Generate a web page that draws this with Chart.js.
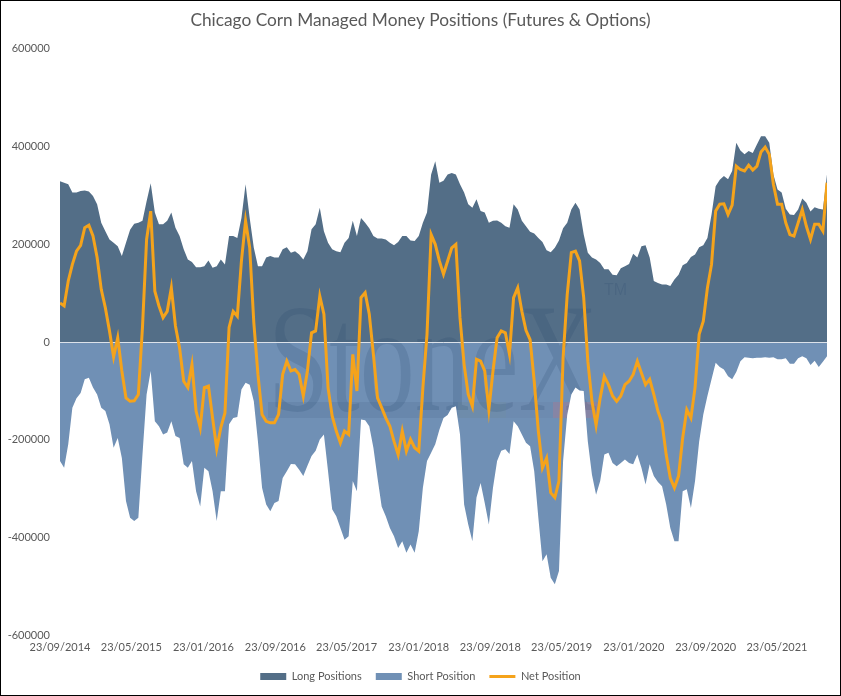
<!DOCTYPE html>
<html>
<head>
<meta charset="utf-8">
<title>Chicago Corn Managed Money Positions</title>
<script src="https://cdn.jsdelivr.net/npm/chart.js@4.4.1/dist/chart.umd.min.js"></script>
<style>
  html, body { margin: 0; padding: 0; background: #fff; }
  #wrap { width: 841px; height: 696px; box-sizing: border-box; border: 1px solid #000; }
  canvas { display: block; }
</style>
</head>
<body>
<div id="wrap"><canvas id="chart" width="839" height="694"></canvas></div>
<script>
// weekly COT report, read every second week starting 23/09/2014 (values in thousands of contracts)
const startDate = Date.UTC(2014, 8, 23)
const stepDays = 14

const tickLabels = ['23/09/2014', '23/05/2015', '23/01/2016', '23/09/2016', '23/05/2017', '23/01/2018',
    '23/09/2018', '23/05/2019', '23/01/2020', '23/09/2020', '23/05/2021']

const longPositions = [
    329, 326, 323, 306, 306, 309, 310, 308, 299, 282, 244, 227, 210, 203, 196, 176, 203, 230, 242, 244,
    248, 288, 325, 265, 241, 241, 248, 265, 234, 217, 190, 169,
    164, 153, 153, 155, 167, 152, 155, 169, 159, 217, 217, 213, 254, 323, 254, 193, 155, 155, 173, 176,
    173, 173, 190, 194, 183, 186, 179, 169, 186, 231,
    241, 275, 227, 203, 190, 186, 184, 203, 213, 248, 217, 254, 244, 233, 217, 212, 212, 210, 203, 198,
    205, 217, 217, 208, 207, 217, 244, 265, 343, 370, 326, 330,
    343, 346, 343, 323, 306, 282, 275, 292, 268, 265, 244, 248, 249, 244, 237, 234, 282, 271, 248, 237,
    226, 222, 213, 205, 188, 184, 193, 208, 233, 244, 271,
    285, 271, 220, 183, 173, 169, 162, 149, 149, 138, 137, 151, 155, 160, 181, 173, 196, 198, 173, 125,
    121, 118, 118, 115, 128, 138, 157, 162, 174, 179, 194, 198,
    213, 261, 319, 332, 340, 333, 350, 408, 392, 384, 391, 387, 404, 421, 421, 408, 343, 312, 306, 273,
    261, 260, 271, 294, 285, 267, 276, 273, 271, 343
]

const shortPosition = [
    -243, -257, -209, -134, -115, -104, -76, -73, -93, -107, -134, -141, -168, -216, -196, -237, -325, -359, -366, -359,
    -230, -107, -59, -162, -172, -189, -185, -162, -192, -196, -250, -257,
    -243, -305, -336, -257, -264, -305, -366, -305, -305, -168, -155, -153, -97, -83, -87, -121, -203, -298, -332, -346,
    -329, -325, -278, -264, -249, -250, -261, -274, -253, -233,
    -222, -199, -189, -264, -342, -356, -380, -404, -397, -284, -305, -158, -160, -172, -216, -278, -336, -356, -380, -397,
    -421, -407, -431, -414, -431, -387, -298, -243, -226, -209, -179, -155,
    -149, -134, -131, -189, -332, -373, -407, -318, -288, -329, -373, -298, -243, -222, -219, -229, -162, -172, -189, -206,
    -213, -264, -359, -448, -434, -482, -495, -468, -243, -149, -107,
    -93, -99, -100, -203, -271, -312, -284, -230, -226, -247, -254, -247, -240, -247, -250, -230, -257, -291, -250, -274,
    -286, -295, -332, -380, -407, -407, -305, -301, -339, -284, -203, -148,
    -110, -76, -42, -51, -56, -70, -76, -61, -39, -31, -32, -33, -32, -32, -31, -32, -31, -35, -35, -33,
    -44, -44, -33, -29, -33, -47, -38, -51, -40, -29
]

const netPosition = [
    80, 74, 125, 159, 186, 198, 234, 239, 217, 173, 108, 70, 23, -30, 9, -59, -114, -121, -120, -107,
    30, 210, 268, 104, 74, 50, 63, 111, 33, -12, -80, -93,
    -46, -141, -175, -93, -90, -155, -218, -175, -145, 30, 63, 53, 166, 248, 193, 40, -66, -148, -162, -165,
    -165, -148, -66, -39, -59, -56, -66, -110, -59, 19,
    23, 94, 57, -93, -151, -182, -206, -182, -189, -25, -100, 91, 101, 57, -25, -114, -134, -155, -172, -203,
    -230, -182, -223, -199, -216, -223, -93, 16, 220, 200, 166, 139,
    166, 193, 200, 50, -46, -107, -131, -35, -39, -59, -138, -59, 9, 23, 19, -25, 91, 111, 63, 24,
    5, -80, -182, -257, -237, -308, -318, -284, -32, 97, 183,
    186, 166, 91, -39, -121, -170, -114, -70, -87, -110, -121, -110, -87, -80, -66, -39, -63, -87, -76, -107,
    -141, -165, -230, -278, -298, -274, -196, -138, -155, -93, 16, 43,
    111, 159, 268, 282, 283, 261, 280, 360, 353, 350, 362, 352, 360, 389, 399, 384, 323, 282, 282, 244,
    220, 217, 244, 271, 237, 210, 241, 241, 227, 326
]

function dayOffset(label) {
    const [d, m, y] = label.split('/').map(Number)
    return (Date.UTC(y, m - 1, d) - startDate) / 864e5
}

const tickDays = tickLabels.map(dayOffset)
const toPoints = (values) => values.map((v, i) => ({ x: i * stepDays, y: v * 1000 }))

const textColor = '#595959'
const font = { family: 'Lato', size: 11 }

// faint StoneX logo behind the net line, plus the light zero axis line
const watermark = {
    id: 'watermark',
    afterDatasetDraw(chart, args) {
        if (args.index !== 0) return
        const { ctx, chartArea, scales } = chart

        ctx.save()
        ctx.globalCompositeOperation = 'source-atop'
        ctx.fillStyle = 'rgba(30, 60, 100, 0.17)'
        ctx.font = '154px "Liberation Serif"'
        const w = ctx.measureText('StoneX').width
        ctx.translate(267, 369)
        ctx.scale(330 / w, 1)
        ctx.fillText('StoneX', 0, 0)
        ctx.restore()

        ctx.save()
        ctx.globalCompositeOperation = 'source-atop'
        ctx.fillStyle = 'rgba(30, 60, 100, 0.17)'
        ctx.font = '16px "Liberation Sans"'
        ctx.fillText('TM', 603, 290)
        ctx.fillStyle = 'rgba(30, 60, 100, 0.10)'
        ctx.fillRect(267, 401, 190, 16)
        ctx.fillStyle = 'rgba(90, 110, 90, 0.10)'
        ctx.fillRect(457, 401, 48, 16)
        ctx.fillStyle = 'rgba(80, 80, 110, 0.08)'
        ctx.fillRect(505, 401, 47, 16)
        ctx.fillStyle = 'rgba(220, 90, 100, 0.20)'
        ctx.fillRect(552, 401, 45, 16)
        ctx.restore()

        const y0 = Math.round(scales.y.getPixelForValue(0)) + 0.5
        ctx.save()
        ctx.strokeStyle = '#DCE2EA'
        ctx.lineWidth = 1
        ctx.beginPath()
        ctx.moveTo(chartArea.left, y0)
        ctx.lineTo(chartArea.right, y0)
        ctx.stroke()
        ctx.restore()
    }
}

new Chart(document.querySelector('#chart'), {
    type: 'line',
    data: {
        datasets: [{
            label: 'Long Positions',
            data: toPoints(longPositions),
            backgroundColor: '#536E87',
            borderColor: '#536E87',
            borderWidth: 0,
            fill: 'origin',
            pointRadius: 0,
            pointStyle: 'rect',
            order: 2,
        }, {
            label: 'Short Position',
            data: toPoints(shortPosition),
            backgroundColor: '#7090B5',
            borderColor: '#7090B5',
            borderWidth: 0,
            fill: 'origin',
            pointRadius: 0,
            pointStyle: 'rect',
            order: 3,
        }, {
            label: 'Net Position',
            data: toPoints(netPosition),
            borderColor: '#F5A31B',
            backgroundColor: '#F5A31B',
            borderWidth: 3,
            fill: false,
            pointRadius: 0,
            pointStyle: 'line',
            order: 1,
        }]
    },
    options: {
        responsive: false,
        animation: false,
        layout: { padding: { top: 0, right: 0, bottom: 3, left: 0 } },
        plugins: {
            title: {
                display: true,
                text: 'Chicago Corn Managed Money Positions (Futures & Options)',
                color: textColor,
                font: { family: 'Lato', size: 17.3, weight: 'normal' },
                padding: { top: 9, bottom: 18 },
            },
            legend: {
                position: 'bottom',
                labels: {
                    usePointStyle: true,
                    pointStyleWidth: 26,
                    boxHeight: 7,
                    padding: 14,
                    color: textColor,
                    font: font,
                    sort: (a, b) => a.datasetIndex - b.datasetIndex,
                }
            },
            tooltip: { enabled: false },
        },
        scales: {
            x: {
                type: 'linear',
                min: 0,
                max: (longPositions.length - 1) * stepDays,
                afterBuildTicks: (scale) => { scale.ticks = tickDays.map(v => ({ value: v })) },
                afterFit: (scale) => { scale.height = 21.5 },
                ticks: {
                    autoSkip: false,
                    maxRotation: 0,
                    padding: 5,
                    color: textColor,
                    font: font,
                    callback: (value, index) => tickLabels[index],
                },
                grid: { display: false, drawTicks: false },
                border: { display: false },
            },
            y: {
                min: -600000,
                max: 600000,
                afterFit: (scale) => { scale.width = 59 },
                ticks: {
                    stepSize: 200000,
                    padding: 10,
                    color: textColor,
                    font: font,
                    callback: (value) => String(value),
                },
                grid: { display: false, drawTicks: false },
                border: { display: false },
            },
            right: {
                position: 'right',
                afterFit: (scale) => { scale.width = 13 },
                ticks: { display: false },
                grid: { display: false, drawTicks: false },
                border: { display: false },
            }
        }
    },
    plugins: [watermark]
});
</script>
</body>
</html>
